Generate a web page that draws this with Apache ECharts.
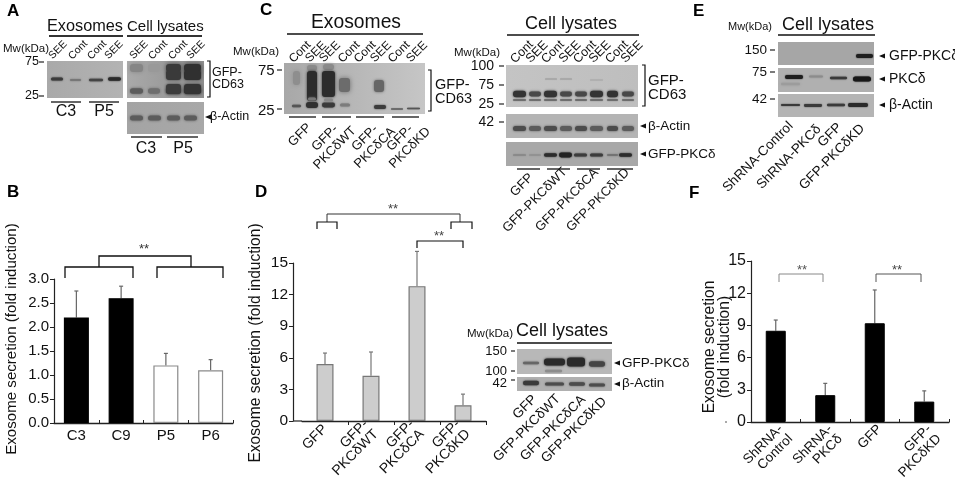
<!DOCTYPE html>
<html><head><meta charset="utf-8">
<style>html,body{margin:0;padding:0;background:#fff}#c{width:955px;height:477px}</style>
<script src="https://cdn.jsdelivr.net/npm/echarts@6/dist/echarts.min.js"></script></head>
<body><div id="c"></div>
<script>
// ---- chart values ----
const catsB = ['C3','C9','P5','P6'];
const valsB = [2.2,2.6,1.2,1.1];
const topsB = [2.75,2.85,1.45,1.32];
const fillsB = ['#000','#000','#fff','#fff'];
const catsD = ['GFP','GFP-\nPKCδWT','GFP-\nPKCδCA','GFP-\nPKCδKD'];
const valsD = [5.4,4.3,12.8,1.5];
const topsD = [6.45,6.55,16.1,2.55];
const catsF = ['ShRNA-\nControl','ShRNA-\nPKCδ','GFP','GFP-\nPKCδKD'];
const valsF = [8.5,2.5,9.2,1.9];
const topsF = [9.5,3.6,12.3,2.9];
const yTitle = 'Exosome secretion (fold induction)';

const FONT='"Liberation Sans",Arial,sans-serif';
const g=[];
const D2R=Math.PI/180;
function t(s,x,y,size,o){o=o||{};
  g.push({type:'text',silent:true,z:10,x:x,y:y,rotation:(o.rot||0)*D2R,
    style:{text:s,x:0,y:0,fill:o.fill||'#111',font:(o.bold?'bold ':'')+size+'px '+FONT,
      align:o.align||'left',verticalAlign:'middle',lineHeight:o.lh||size*1.08}});}
function line(pts,w,c){g.push({type:'polyline',silent:true,z:9,shape:{points:pts},
  style:{stroke:c||'#222',lineWidth:w||1,fill:null}});}
function hl(x1,x2,y,w,c){line([[x1,y],[x2,y]],w||1.5,c||'#333');}
function rt(s,x,y,size,o){t(s,x,y,size,Object.assign({rot:45,align:'center'},o||{}));}
function blot(x,y,w,h,c1,c2){g.push({type:'rect',silent:true,z:2,shape:{x:x,y:y,width:w,height:h},
  style:{fill:{type:'linear',x:0,y:0,x2:1,y2:0,colorStops:[{offset:0,color:c1},{offset:1,color:c2||c1}]}}});}
function band(x1,x2,cy,ry,c,blur){g.push({type:'rect',silent:true,z:4,
  shape:{x:x1,y:cy-ry,width:x2-x1,height:2*ry,r:Math.min(ry,3)},
  style:{fill:c,shadowColor:c,shadowBlur:blur==null?3:blur}});}
function arrow(x,y){g.push({type:'polygon',silent:true,z:9,shape:{points:[[x,y],[x+6,y-2.5],[x+6,y+2.5]]},style:{fill:'#111'}});}
function bracketR(x,y1,y2){line([[x,y1],[x+3,y1],[x+3,y2],[x,y2]],1.2,'#111');}
function tick(x1,x2,y){hl(x1,x2,y,1.3,'#333');}
function br(x1,x2,y,d,w,c){line([[x1,y+d],[x1,y],[x2,y],[x2,y+d]],w,c);}

// Panel letters
[['A',7,11],['B',7,192],['C',260,10],['D',255,192],['E',693,11],['F',689,193]].forEach(a=>t(a[0],a[1],a[2],17,{bold:true,fill:'#000'}));

// ---- Panel A ----
t('Exosomes',47,27,16.3); t('Cell lysates',127,27,15);
hl(49,123,36,2); hl(127,202,36,2);
t('Mw(kDa)',3,49,11.5);
[['SEE',58],['Cont',78],['Cont',97],['SEE',114],['SEE',139],['Cont',158],['Cont',178],['SEE',196]].forEach(a=>rt(a[0],a[1],50,10.5));
t('75',25,62,12.5); t('25',25,96,12.5); tick(39,44,62); tick(39,44,96);
blot(47,61,76,37,'#a9a9a9','#b3b3b3');
band(51,63,79,1.5,'#3a3a3a',2);band(70,81,80,1,'#777',2);band(89,103,80,1.3,'#444',2);band(108,121,79,1.8,'#2a2a2a',2);
blot(127,61,77,37,'#aaaaaa','#8c8c8c');
[[130,143,'#858585','#5c5c5c'],[148,160,'#999','#6e6e6e'],[166,181,'#3a3a3a','#3c3c3c'],[184,201,'#303030','#333']].forEach((l,i)=>{
  band(l[0],l[1],68,4,l[2],4); band(l[0],l[1],91,2.8,l[3],3);
  if(i>1){band(l[0],l[1],75,5,l[2],3);band(l[0],l[1],89,5,l[3],3);}
});
blot(127,102,77,32,'#a4a4a4','#a8a8a8');
[[130,143],[148,161],[167,180],[184,197]].forEach(l=>band(l[0],l[1],118,2.5,'#5c5c5c',3));
hl(51,81,102); hl(89,119,102); t('C3',66,112,16,{align:'center'}); t('P5',104,112,16,{align:'center'});
hl(131,162,137); hl(167,198,137); t('C3',146,149,16,{align:'center'}); t('P5',183,149,16,{align:'center'});
bracketR(207,61,97); t('GFP-\nCD63',212,79,12.5,{lh:12});
arrow(205,117); t('β-Actin',210,117,12.5);

// ---- Panel C exosomes ----
t('Exosomes',311,23,19.3); hl(287,423,34,1.5,'#111');
t('Mw(kDa)',233,52,11.5);
[['Cont',300],['SEE',316],['SEE',330],['Cont',349],['Cont',365],['SEE',381],['Cont',399],['SEE',417]].forEach(a=>rt(a[0],a[1],52,12));
t('75',258,71,15); t('25',258,111,15); tick(277,282,70); tick(277,282,109);
blot(284,63,141,51,'#a8a8a8','#c6c6c6');
band(293,300,78,7,'#8e8e8e',5);band(292,301,106,1.3,'#555',1.5);
band(307,317,68,3,'#8a8a8a',3);band(307,317,86,15,'#2c2c2c',3);band(306,318,105,3,'#303030',2);band(308,316,99,1.6,'#777',2);
band(323,334,67,3,'#8a8a8a',3);band(322,335,84,13,'#2c2c2c',3);band(322,335,105,2.4,'#3a3a3a',2);band(324,333,100,1.5,'#888',2);
band(339,350,85,7,'#6c6c6c',5);band(340,350,105,1.6,'#7c7c7c',2);
band(374,384,86,6,'#666',3);band(374,386,107,2,'#3c3c3c',2);
band(391,403,109,0.7,'#666',1);band(407,420,108.5,0.8,'#555',1);
hl(289,316,117);hl(322,351,117);hl(356,384,117);hl(392,419,117);
rt('GFP',300,135,13);rt('GFP-\nPKCδWT',330,143,13,{lh:14});rt('GFP-\nPKCδCA',370,143,13,{lh:14});rt('GFP-\nPKCδKD',405,143,13,{lh:14});
bracketR(428,70,111); t('GFP-\nCD63',435,91.5,14.5,{lh:14});

// ---- Panel C cell lysates ----
t('Cell lysates',525,24,18); hl(507,639,35,1.5,'#111');
t('Mw(kDa)',454,53,11.5);
[['Cont',522],['SEE',537],['Cont',553],['SEE',570],['Cont',585],['SEE',600],['Cont',617],['SEE',632]].forEach(a=>rt(a[0],a[1],52,12.5));
[['100',66],['75',85],['25',104],['42',122]].forEach(a=>{t(a[0],494,a[1],14,{align:'right'});tick(499,504,a[1]);});
blot(506,65,132,42,'#c4c4c4','#bebebe');blot(506,114,132,24,'#b4b4b4');blot(506,142,132,24,'#a8a8a8');
const lanesC=[[513,526],[529,541],[544,557],[560,572],[575,587],[590,603],[607,618],[622,634]];
const k1=[1,.7,1,.8,.8,1,1,.7];
lanesC.forEach((l,i)=>{
  band(l[0],l[1],94,k1[i]>.9?3.2:2.4,k1[i]>.9?'#333':'#484848',2.5);band(l[0],l[1],100,.7,'#666',1.5);
  band(l[0],l[1],128.5,2.5,i%2==0?'#4c4c4c':'#5c5c5c',2.5);
});
band(545,557,79,.5,'#a0a0a0',1);band(560,572,79,.5,'#a0a0a0',1);band(590,603,80,.5,'#aaa',1);
[[513,526,.6,'#7c7c7c'],[529,541,.6,'#888'],[544,557,1.8,'#2c2c2c'],[559,572,2.4,'#222'],[574,587,1.5,'#3c3c3c'],[590,603,1.5,'#3c3c3c'],[607,618,.8,'#6c6c6c'],[619,632,1.8,'#2c2c2c']].forEach(a=>band(a[0],a[1],155,a[2],a[3],2));
hl(517,540,169);hl(547,570,169);hl(577,600,169);hl(607,633,169);
rt('GFP',522,185,13);rt('GFP-PKCδWT',535,200,13);rt('GFP-PKCδCA',567,200,13);rt('GFP-PKCδKD',598,200,13);
bracketR(642,65,106); t('GFP-\nCD63',648,88,15,{lh:14.5});
arrow(640,126);t('β-Actin',648,126,13.5);arrow(640,154);t('GFP-PKCδ',648,154,13.5);

// ---- Panel E ----
t('Mw(kDa)',728,27,11);t('Cell lysates',782,25,18);hl(778,875,35,1.5,'#111');
blot(778,42,96,23,'#a6a6a6');blot(778,68,96,24,'#b0b0b0');blot(778,94,96,23,'#b4b4b4');
band(856,873,56,2,'#1e1e1e',1.5);
band(785,803,77,2,'#1e1e1e',1.5);band(809,823,76.5,1,'#8c8c8c',2);band(830,847,78,1.2,'#3a3a3a',1.5);band(853,871,79,2.5,'#181818',1.5);
band(781,800,84,1.2,'#9c9c9c',3);
band(781,800,105,1.1,'#3a3a3a',1.5);band(804,822,105.5,1.4,'#3a3a3a',1.5);band(827,845,105,1.2,'#3a3a3a',1.5);band(848,868,105,1.9,'#2a2a2a',1.5);
[['150',50],['75',72],['42',99]].forEach(a=>{t(a[0],767,a[1],13.5,{align:'right'});tick(770,775,a[1]);});
arrow(879,56);t('GFP-PKCδ',889,56,14);arrow(879,79);t('PKCδ',889,79,14);arrow(879,105);t('β-Actin',889,105,14);
rt('ShRNA-Control',758,157,13.5);rt('ShRNA-PKCδ',789,157,13.5);rt('GFP',830,135,13.5);rt('GFP-PKCδKD',832,157,13.5);

// ---- Panel D inset ----
t('Mw(kDa)',467,334,11.5);t('Cell lysates',516,331,18);hl(517,612,343,1.5,'#111');
blot(517,349,95,25,'#b8b8b8');blot(517,377,95,14,'#b0b0b0');
band(523,539,363,1.2,'#666',2);band(544,565,362,3.6,'#2a2a2a',2.5);band(567,585,362,4.6,'#2a2a2a',2.5);band(589,605,364,2.8,'#444',2.5);
band(545,562,371,1.2,'#8c8c8c',2);
band(523,539,383,2.2,'#3a3a3a',2);band(545,564,384,1.5,'#4c4c4c',2);band(569,585,384,1.8,'#4c4c4c',2);band(589,605,385,1.5,'#4c4c4c',2);
[['150',351,351],['100',371,371],['42',383,380]].forEach(a=>{t(a[0],507,a[1],13,{align:'right'});tick(511,515,a[2]);});
arrow(614,363);t('GFP-PKCδ',622,363,13.5);arrow(614,384);t('β-Actin',622,383,13.5);
rt('GFP',525,407,13.5);rt('GFP-PKCδWT',527,428,13.5);rt('GFP-PKCδCA',553,428,13.5);rt('GFP-PKCδKD',574,430,13.5);

// ---- Chart annotations ----
br(99,191,256,11,1.3,'#111');br(65,133,267,11,1.3,'#111');br(157,223,267,11,1.3,'#111');
t('**',144,249,13,{align:'center',fill:'#333'});
br(327,460,214,8,1,'#333');br(317,337,222,7,1.2,'#111');br(451,472,222,7,1.2,'#111');
t('**',393,209,13,{align:'center',fill:'#444'});
br(417,463,241,7,1.2,'#111');t('**',439,236,13,{align:'center',fill:'#444'});
br(779,823,274,8,1,'#888');t('**',802,270,13,{align:'center',fill:'#555'});
br(876,921,274,8,1,'#555');t('**',897,270,13,{align:'center',fill:'#444'});
hl(293,302,421,1.3,'#333');
hl(725,727,422,1,'#555');
t(yTitle,12,339,15.1,{rot:90,align:'center'});
t(yTitle,256,343,15.6,{rot:90,align:'center'});
t('Exosome secretion\n(fold induction)',717,347,15.6,{rot:90,align:'center',lh:15});

function errSeries(grid,tops,vals,col){
  return {type:'custom',xAxisIndex:grid,yAxisIndex:grid,clip:false,silent:true,z:1,
    data:tops.map((v,i)=>[i,v,vals[i]]),encode:{x:0,y:1},
    renderItem:(p,api)=>{
      const a=api.coord([api.value(0),api.value(1)]),b=api.coord([api.value(0),api.value(2)]);
      const st={stroke:col,lineWidth:1.2};
      return {type:'group',children:[
        {type:'line',shape:{x1:a[0],y1:a[1],x2:b[0],y2:b[1]},style:st},
        {type:'line',shape:{x1:a[0]-2,y1:a[1],x2:a[0]+2,y2:a[1]},style:st}]};
    }};
}
function xAx(grid,data,o){return Object.assign({type:'category',gridIndex:grid,data:data,
  axisLine:{onZero:false,lineStyle:{color:'#222',width:1.3}},
  axisTick:{show:true,length:3,inside:true,lineStyle:{color:'#222'}},
  axisLabel:{color:'#111',fontFamily:FONT,fontSize:13,interval:0}},o||{});}
function yAx(grid,max,iv,fs,fmt,off){return {type:'value',gridIndex:grid,min:0,max:max,interval:iv,offset:off||0,
  splitLine:{show:false},
  axisLine:{show:true,lineStyle:{color:'#222',width:1.2}},
  axisTick:{show:true,length:4,lineStyle:{color:'#222'}},
  axisLabel:{color:'#111',fontFamily:FONT,fontSize:fs,margin:5,formatter:fmt}};}

const option={animation:false,backgroundColor:'#fff',
 grid:[{left:54,top:279,width:179,height:144,outerBoundsMode:'none'},
       {left:302,top:263,width:184,height:158,outerBoundsMode:'none'},
       {left:751,top:261,width:198,height:161,outerBoundsMode:'none'}],
 xAxis:[
  xAx(0,catsB,{axisLabel:{color:'#111',fontFamily:FONT,fontSize:15,margin:5,interval:0}}),
  xAx(1,catsD,{axisTick:{show:true,length:4,inside:false,interval:i=>i>0,lineStyle:{color:'#222'}},
    axisLabel:{color:'#111',fontFamily:FONT,fontSize:14,rotate:45,margin:6,interval:0,lineHeight:14}}),
  xAx(2,catsF,{axisLabel:{color:'#111',fontFamily:FONT,fontSize:13.5,rotate:45,margin:0,verticalAlign:'top',interval:0,lineHeight:14}})
 ],
 yAxis:[yAx(0,3,0.5,15,v=>v.toFixed(1)),yAx(1,15,3,15.5,v=>v,9),yAx(2,15,3,16,v=>v)],
 graphic:{elements:g},
 series:[
  {type:'bar',xAxisIndex:0,yAxisIndex:0,barWidth:25,silent:true,z:2,
   data:valsB.map((v,i)=>({value:v,itemStyle:{color:fillsB[i],borderColor:i<2?'#000':'#8a8a8a',borderWidth:1.2}}))},
  errSeries(0,topsB,valsB,'#666'),
  {type:'bar',xAxisIndex:1,yAxisIndex:1,barWidth:17,silent:true,z:2,
   data:valsD,itemStyle:{color:'#cdcdcd',borderColor:'#777',borderWidth:1.2}},
  errSeries(1,topsD,valsD,'#777'),
  {type:'bar',xAxisIndex:2,yAxisIndex:2,barWidth:20,silent:true,z:2,
   data:valsF,itemStyle:{color:'#000',borderColor:'#000',borderWidth:1}},
  errSeries(2,topsF,valsF,'#666')
 ]};
echarts.init(document.getElementById('c'),null,{renderer:'canvas'}).setOption(option);
</script></body></html>
